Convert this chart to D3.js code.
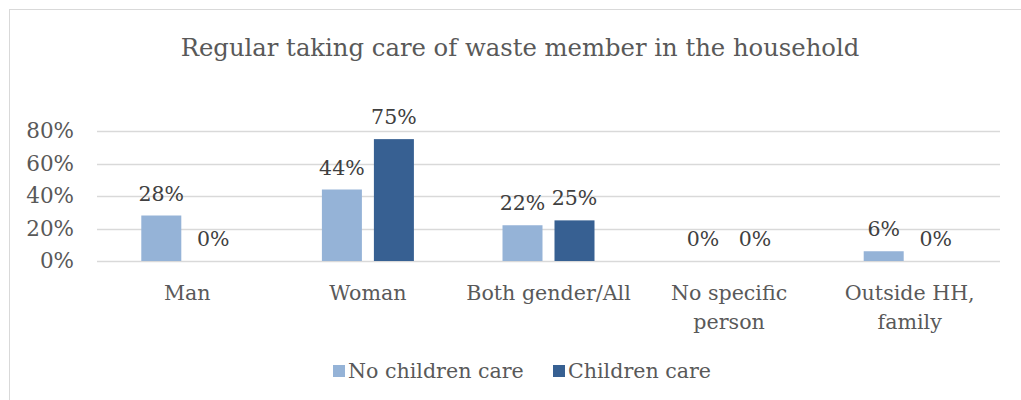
<!DOCTYPE html>
<html>
<head>
<meta charset="utf-8">
<script src="https://cdn.jsdelivr.net/npm/d3@7"></script>
<style>
  html, body { margin: 0; padding: 0; background: #fff; }
  svg { display: block; }
  text { font-family: "DejaVu Serif", serif; }
</style>
</head>
<body>
<svg id="chart" width="1021" height="400"></svg>
<script>
// Household member who regularly takes care of waste, by children-care status
const categories = [["Man"], ["Woman"], ["Both gender/All"], ["No specific", "person"], ["Outside HH,", "family"]];
const seriesNames = ["No children care", "Children care"];
const noChildrenCare = [0.28, 0.44, 0.22, 0.00, 0.06];
const childrenCare = [0.00, 0.75, 0.25, 0.00, 0.00];
const yTicks = [0, 0.2, 0.4, 0.6, 0.8];
const colors = ["#95b3d7", "#376092"];

const svg = d3.select("#chart");
const W = 1021, H = 400;

// outer chart frame
svg.append("rect")
  .attr("x", 9.5).attr("y", 9.5)
  .attr("width", W).attr("height", H)
  .attr("fill", "#fff").attr("stroke", "#d9d9d9").attr("stroke-width", 1);

const plot = { left: 97, right: 1000, top: 131, bottom: 261 };

const x = d3.scaleBand()
  .domain(d3.range(categories.length))
  .range([plot.left, plot.right]);

const y = d3.scaleLinear()
  .domain([0, 0.8])
  .range([plot.bottom, plot.top]);

// two bars per category, 40px wide with a 12px gap, centred in the band
const barW = 40, barGap = 12;
const xs = d3.scaleBand()
  .domain([0, 1])
  .range([-(barW + barGap / 2), barW + barGap / 2])
  .paddingInner(barGap / (barW + barGap));

const fmt = d3.format(".0%");

// title
svg.append("text")
  .attr("x", 520).attr("y", 56)
  .attr("text-anchor", "middle")
  .attr("fill", "#595959")
  .style("font-size", "24.3px")
  .text("Regular taking care of waste member in the household");

// gridlines
svg.append("g")
  .selectAll("line")
  .data(yTicks)
  .join("line")
  .attr("x1", plot.left).attr("x2", plot.right)
  .attr("y1", d => Math.round(y(d)) + 0.5).attr("y2", d => Math.round(y(d)) + 0.5)
  .attr("stroke", "#d9d9d9").attr("stroke-width", 1.5);

// y axis labels
const yAxis = d3.axisLeft(y).tickValues(yTicks).tickFormat(fmt).tickSize(0).tickPadding(0);
const yg = svg.append("g").attr("transform", `translate(${plot.left - 23},0)`).call(yAxis);
yg.select(".domain").remove();
yg.selectAll("text")
  .attr("fill", "#595959")
  .style("font-family", "DejaVu Serif, serif")
  .style("font-size", "21.5px");

// bars and value labels
const series = [noChildrenCare, childrenCare];
series.forEach((vals, si) => {
  const g = svg.append("g");
  g.selectAll("rect")
    .data(vals)
    .join("rect")
    .attr("x", (d, i) => x(i) + x.bandwidth() / 2 + xs(si))
    .attr("width", xs.bandwidth())
    .attr("y", d => y(d))
    .attr("height", d => y(0) - y(d))
    .attr("fill", colors[si]);
  g.selectAll("text")
    .data(vals)
    .join("text")
    .attr("x", (d, i) => x(i) + x.bandwidth() / 2 + xs(si) + xs.bandwidth() / 2)
    .attr("y", d => y(d) - 15)
    .attr("text-anchor", "middle")
    .attr("fill", "#404040")
    .style("font-size", "20.5px")
    .text(d => fmt(d));
});

// category labels
const cg = svg.append("g");
categories.forEach((lines, i) => {
  const cx = x(i) + x.bandwidth() / 2;
  const t = cg.append("text")
    .attr("x", cx)
    .attr("y", 300)
    .attr("text-anchor", "middle")
    .attr("fill", "#595959")
    .style("font-size", "20.6px");
  lines.forEach((ln, li) => {
    t.append("tspan")
      .attr("x", cx)
      .attr("dy", li === 0 ? 0 : 29)
      .text(ln);
  });
});

// legend
const legendX = [333, 553];
const lg = svg.append("g");
seriesNames.forEach((name, i) => {
  lg.append("rect")
    .attr("x", legendX[i]).attr("y", 365)
    .attr("width", 12).attr("height", 12)
    .attr("fill", colors[i]);
  lg.append("text")
    .attr("x", legendX[i] + 15).attr("y", 378)
    .attr("fill", "#595959")
    .style("font-size", "20.6px")
    .text(name);
});
</script>
</body>
</html>
